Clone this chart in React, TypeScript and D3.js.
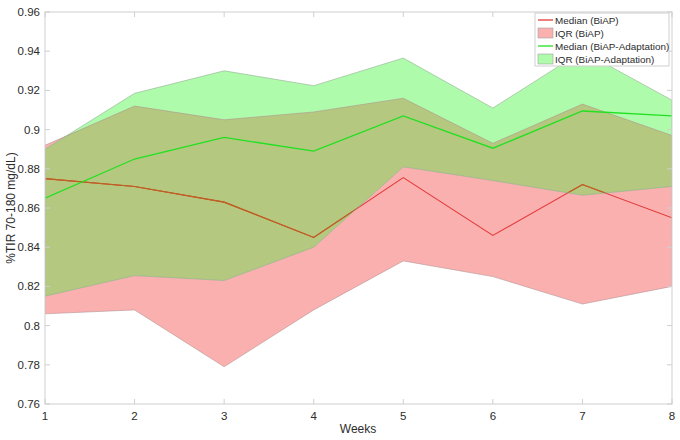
import React from "react";
import * as d3 from "d3";

const weeks = [1, 2, 3, 4, 5, 6, 7, 8];
const biapMedian = [0.875, 0.871, 0.863, 0.845, 0.8755, 0.846, 0.872, 0.855];
const biapQ1 = [0.806, 0.808, 0.779, 0.808, 0.833, 0.825, 0.811, 0.82];
const biapQ3 = [0.892, 0.912, 0.905, 0.909, 0.916, 0.893, 0.913, 0.897];
const adaptMedian = [0.865, 0.885, 0.896, 0.889, 0.907, 0.8905, 0.9095, 0.907];
const adaptQ1 = [0.815, 0.8255, 0.823, 0.84, 0.881, 0.874, 0.8665, 0.871];
const adaptQ3 = [0.89, 0.9185, 0.93, 0.9224, 0.9365, 0.911, 0.94, 0.915];
const yTicks = [0.76, 0.78, 0.8, 0.82, 0.84, 0.86, 0.88, 0.9, 0.92, 0.94, 0.96];
const legendItems = [
  { label: "Median (BiAP)", kind: "line", color: "#e23b3b" },
  { label: "IQR (BiAP)", kind: "patch", color: "#fbb0b0" },
  { label: "Median (BiAP-Adaptation)", kind: "line", color: "#22e022" },
  { label: "IQR (BiAP-Adaptation)", kind: "patch", color: "#aefbab" },
];

const W = 680;
const H = 440;
const L = 45, R = 672, T = 12, B = 404;
const FONT = "'Liberation Sans', Arial, Helvetica, sans-serif";

export default function App() {
  const x = d3.scaleLinear().domain([1, 8]).range([L, R]);
  const y = d3.scaleLinear().domain([0.76, 0.96]).range([B, T]);

  const idx = weeks.map((_, i) => i);
  const area = (lo: number[], hi: number[]) =>
    d3.area<number>().x((i) => x(weeks[i])).y0((i) => y(lo[i])).y1((i) => y(hi[i]))(idx) || "";
  const line = (v: number[]) =>
    d3.line<number>().x((i) => x(weeks[i])).y((i) => y(v[i]))(idx) || "";

  const redArea = area(biapQ1, biapQ3);
  const greenArea = area(adaptQ1, adaptQ3);
  const redLine = line(biapMedian);
  const greenLine = line(adaptMedian);

  const axisColor = "#cfcfcf";
  const textColor = "#2b2b2b";

  return (
    <svg width={W} height={H} style={{ position: "absolute", left: 0, top: 0, background: "#fff" }}>
      <defs>
        <clipPath id="redClip">
          <path d={redArea} />
        </clipPath>
        <clipPath id="greenClipInner">
          <path d={greenArea} />
        </clipPath>
        <clipPath id="plotClip">
          <rect x={L} y={T} width={R - L} height={B - T} />
        </clipPath>
      </defs>
      <rect x={0} y={0} width={W} height={H} fill="#fff" />
      <g clipPath="url(#plotClip)">
        <path d={redArea} fill="#fbb0b0" />
        <path d={greenArea} fill="#aefbab" />
        <path d={greenArea} fill="#b4c87f" clipPath="url(#redClip)" />
        <path d={redLine} fill="none" stroke="#e23b3b" strokeWidth={1.1} />
        <g clipPath="url(#redClip)">
          <path d={redLine} fill="none" stroke="#b8651e" strokeWidth={1.1} clipPath="url(#greenClipInner)" />
        </g>
        <path d={redArea} fill="none" stroke="#b09090" strokeWidth={0.7} strokeOpacity={0.8} />
        <path d={greenArea} fill="none" stroke="#90a890" strokeWidth={0.7} strokeOpacity={0.8} />
        <path d={greenLine} fill="none" stroke="#22e022" strokeWidth={1.3} />
      </g>
      <rect x={L} y={T} width={R - L} height={B - T} fill="none" stroke={axisColor} strokeWidth={1} />
      {weeks.map((w) => (
        <g key={"xt" + w}>
          <line x1={x(w)} x2={x(w)} y1={B} y2={B - 5} stroke={axisColor} />
          <line x1={x(w)} x2={x(w)} y1={T} y2={T + 5} stroke={axisColor} />
          <text x={x(w)} y={420} textAnchor="middle" fontSize={11.5} fontFamily={FONT} fill={textColor}>
            {w}
          </text>
        </g>
      ))}
      {yTicks.map((t) => (
        <g key={"yt" + t}>
          <line x1={L} x2={L + 5} y1={y(t)} y2={y(t)} stroke={axisColor} />
          <line x1={R} x2={R - 5} y1={y(t)} y2={y(t)} stroke={axisColor} />
          <text x={40} y={y(t) + 4} textAnchor="end" fontSize={11.5} fontFamily={FONT} fill={textColor}>
            {String(t)}
          </text>
        </g>
      ))}
      <text x={358} y={433} textAnchor="middle" fontSize={12} fontFamily={FONT} fill={textColor}>
        Weeks
      </text>
      <text
        transform={`translate(15,${208}) rotate(-90)`}
        textAnchor="middle"
        fontSize={12}
        fontFamily={FONT}
        fill={textColor}
      >
        %TIR 70-180 mg/dL)
      </text>
      <rect x={535} y={13} width={134} height={53} fill="#fff" stroke="#cfcfcf" strokeWidth={1} />
      {legendItems.map((it, i) => {
        const cy = 20 + i * 13;
        return (
          <g key={it.label}>
            {it.kind === "line" ? (
              <line x1={538} x2={553} y1={cy} y2={cy} stroke={it.color} strokeWidth={1.3} />
            ) : (
              <rect x={538} y={cy - 5} width={15} height={10} fill={it.color} stroke="#a0a0a0" strokeWidth={0.6} />
            )}
            <text x={555} y={cy + 3.5} fontSize={9.9} fontFamily={FONT} fill={textColor}>
              {it.label}
            </text>
          </g>
        );
      })}
    </svg>
  );
}
